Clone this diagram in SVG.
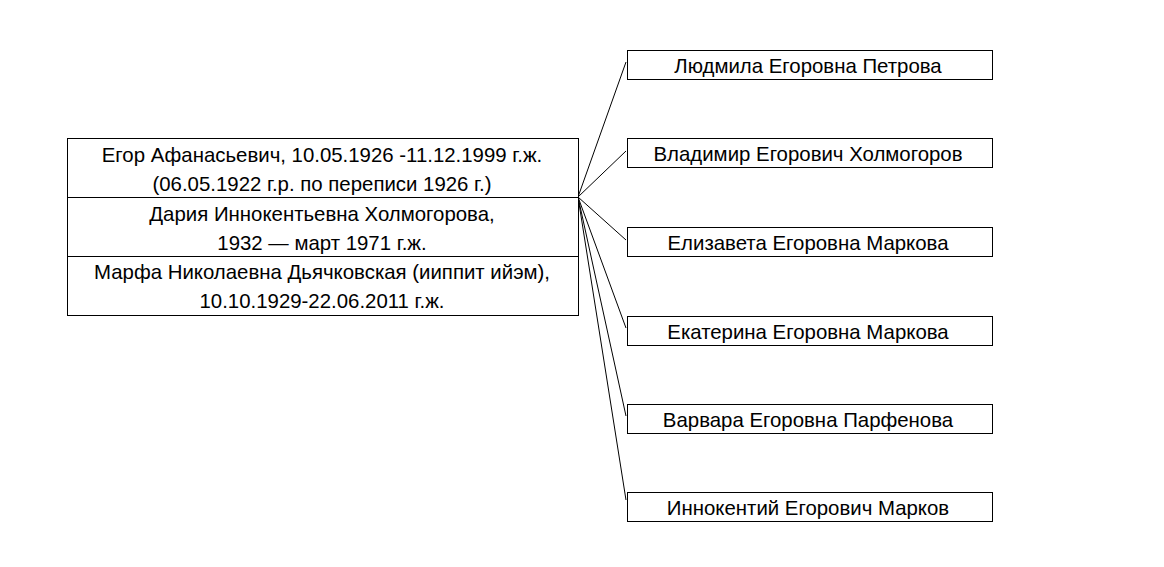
<svg xmlns="http://www.w3.org/2000/svg" width="1164" height="567" viewBox="0 0 1164 567">
<style>
rect{fill:#fff;stroke:#000;stroke-width:1}
text{font-family:"Liberation Sans",Arial,sans-serif;font-size:20.4px;fill:#000;text-anchor:middle}
.c line{stroke:#000;stroke-width:1}
</style>
<rect x="0" y="0" width="1164" height="567" style="stroke:none"/>
<g class="c" id="connectors">
<line x1="578" y1="197" x2="626" y2="62"/>
<line x1="578" y1="197" x2="626" y2="151"/>
<line x1="578" y1="197" x2="626" y2="240"/>
<line x1="578" y1="197" x2="626" y2="328"/>
<line x1="578" y1="197" x2="626" y2="416"/>
<line x1="578" y1="197" x2="626" y2="500"/>
</g>
<g id="parent">
<rect x="67.5" y="138.5" width="511" height="177"/>
<line x1="67.5" y1="197.5" x2="578.5" y2="197.5" stroke="#000"/>
<line x1="67.5" y1="256.5" x2="578.5" y2="256.5" stroke="#000"/>
<text x="322" y="162">Егор Афанасьевич, 10.05.1926 -11.12.1999 г.ж.</text>
<text x="322" y="191">(06.05.1922 г.р. по переписи 1926 г.)</text>
<text x="322" y="221">Дария Иннокентьевна Холмогорова,</text>
<text x="322" y="250">1932 — март 1971 г.ж.</text>
<text x="322" y="279">Марфа Николаевна Дьячковская (ииппит ийэм),</text>
<text x="322" y="308">10.10.1929-22.06.2011 г.ж.</text>
</g>
<g id="child1"><rect x="627.5" y="50.5" width="365" height="29"/><text x="808" y="73">Людмила Егоровна Петрова</text></g>
<g id="child2"><rect x="627.5" y="138.5" width="365" height="29"/><text x="808" y="161">Владимир Егорович Холмогоров</text></g>
<g id="child3"><rect x="627.5" y="227.5" width="365" height="29"/><text x="808" y="250">Елизавета Егоровна Маркова</text></g>
<g id="child4"><rect x="627.5" y="316.5" width="365" height="29"/><text x="808" y="339">Екатерина Егоровна Маркова</text></g>
<g id="child5"><rect x="627.5" y="404.5" width="365" height="29"/><text x="808" y="427">Варвара Егоровна Парфенова</text></g>
<g id="child6"><rect x="627.5" y="492.5" width="365" height="29"/><text x="808" y="515">Иннокентий Егорович Марков</text></g>
</svg>
